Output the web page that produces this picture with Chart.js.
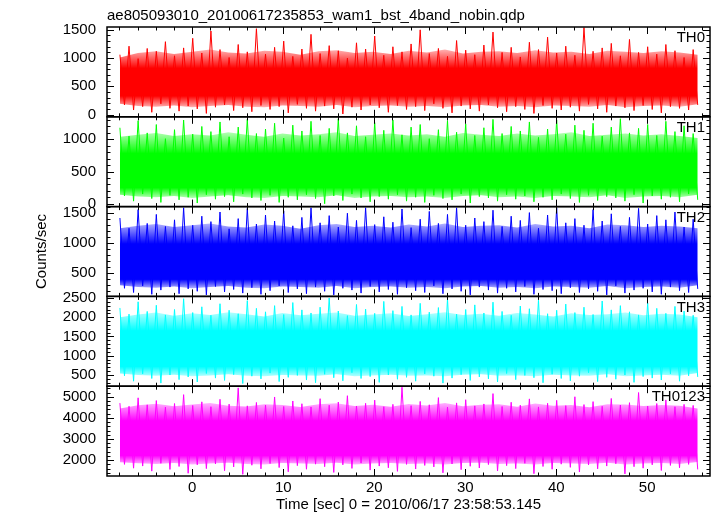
<!DOCTYPE html>
<html>
<head>
<meta charset="utf-8">
<script src="https://cdn.jsdelivr.net/npm/chart.js@4.4.1/dist/chart.umd.min.js"></script>
<style>
  html, body { margin: 0; padding: 0; background: #fff; }
  #wrap { width: 717px; height: 516px; }
</style>
</head>
<body>
<div id="wrap"><canvas id="lc" width="717" height="516"></canvas></div>
<script>
const plotTitle = 'ae805093010_20100617235853_wam1_bst_4band_nobin.qdp';
const xTitle = 'Time [sec] 0 = 2010/06/17 23:58:53.145';
const yTitle = 'Counts/sec';
const fontFamily = "'Liberation Sans', Arial, sans-serif";

const bandNames = ['TH0', 'TH1', 'TH2', 'TH3', 'TH0123'];
const bandRGB = ['255,0,0', '0,255,0', '0,0,255', '0,255,255', '255,0,255'];

// time range of the light curve (sec)
const timeStart = -7.95;
const timeEnd = 55.55;
const timeTicks = [0, 10, 20, 30, 40, 50];

// y ranges and tick labels for each panel
const yMin = [-40, -45, 115, 210, 1250];
const yMax = [1550, 1350, 1610, 2540, 5500];
const yTicks = [
  [0, 500, 1000, 1500],
  [0, 500, 1000],
  [500, 1000, 1500],
  [500, 1000, 1500, 2000, 2500],
  [2000, 3000, 4000, 5000]
];
const yMinor = [100, 100, 100, 100, 200];

// dense core of the noise (counts/sec)
const coreTop = [820, 780, 990, 1650, 3860];
const coreBottom = [330, 250, 400, 720, 2220];

// TH0
const th0High = [1060, 1210, 990, 1170, 1120, 1290, 1040, 1180,
  1350, 1090, 1480, 1150, 1010, 1240, 1110, 1520,
  1070, 1190, 1300, 1030, 1160, 1420, 1080, 1220,
  1130, 1000, 1270, 1160, 1390, 1050, 1200, 1110,
  1250, 1500, 1080, 1170, 1030, 1310, 1140, 1060,
  1230, 1460, 1100, 1190, 1020, 1280, 1150, 1370,
  1090, 1210, 1050, 1540, 1120, 1180, 1260, 1040,
  1330, 1100, 1200, 1070, 1240, 1130, 1010, 1150];
const th0Low = [170, 80, 140, 40, 190, 110, 60, 150,
  100, 20, 130, 170, 70, 120, 50, 160,
  90, 140, 30, 180, 110, 60, 150, 100,
  10, 130, 80, 170, 120, 40, 160, 90,
  140, 70, 190, 110, 30, 150, 100, 60,
  170, 120, 50, 140, 90, 20, 160, 110,
  80, 130, 60, 180, 100, 40, 150, 120,
  70, 160, 90, 30, 140, 110, 80, 170];
const th0BandTop = [1010, 1090, 1120, 1070, 1110, 1150, 1100, 1080,
  1130, 1110, 1060, 1120, 1140, 1090, 1110, 1070,
  1130, 1100, 1150, 1080, 1110, 1120, 1090, 1140,
  1100, 1110, 1070, 1130, 1110, 1090, 1120, 1100, 1060];
const th0BandBottom = [190, 150, 140, 160, 130, 150, 170, 140,
  130, 160, 150, 140, 170, 130, 150, 160,
  140, 150, 130, 160, 170, 140, 150, 130,
  160, 150, 140, 170, 130, 150, 160, 140, 180];

// TH1
const th1High = [1180, 1050, 1290, 1100, 1230, 1010, 1150, 1300,
  1080, 1200, 1120, 1270, 1040, 1190, 1310, 1090,
  1160, 1250, 1020, 1220, 1130, 1280, 1060, 1170,
  1320, 1100, 1210, 1040, 1260, 1140, 1300, 1070,
  1190, 1230, 1010, 1150, 1290, 1110, 1240, 1060,
  1180, 1310, 1090, 1200, 1130, 1270, 1030, 1160,
  1300, 1080, 1220, 1140, 1250, 1050, 1190, 1320,
  1100, 1170, 1230, 1060, 1280, 1120, 1210, 1090];
const th1Low = [120, 40, 150, 80, 20, 130, 60, 100,
  10, 140, 70, 110, 30, 150, 90, 50,
  130, 20, 100, 60, 140, 80, 0, 120,
  50, 150, 90, 30, 110, 70, 140, 40,
  100, 20, 130, 80, 60, 150, 10, 110,
  90, 40, 140, 70, 120, 30, 100, 60,
  150, 80, 20, 130, 50, 110, 90, 40,
  140, 10, 120, 70, 100, 30, 150, 60];
const th1BandTop = [1040, 1070, 1100, 1050, 1080, 1060, 1110, 1070,
  1040, 1090, 1060, 1080, 1110, 1050, 1070, 1090,
  1060, 1080, 1040, 1100, 1070, 1050, 1090, 1060,
  1080, 1110, 1050, 1070, 1090, 1060, 1080, 1050, 1020];
const th1BandBottom = [140, 110, 100, 120, 90, 110, 130, 100,
  90, 120, 110, 100, 130, 90, 110, 120,
  100, 110, 90, 120, 130, 100, 110, 90,
  120, 110, 100, 130, 90, 110, 120, 100, 140];

// TH2
const th2High = [1420, 1250, 1560, 1330, 1480, 1280, 1390, 1590,
  1300, 1450, 1360, 1520, 1240, 1410, 1580, 1320,
  1470, 1370, 1540, 1290, 1430, 1590, 1340, 1460,
  1270, 1500, 1380, 1590, 1310, 1440, 1350, 1570,
  1260, 1400, 1530, 1330, 1480, 1590, 1300, 1420,
  1360, 1550, 1280, 1450, 1380, 1510, 1250, 1470,
  1590, 1340, 1410, 1300, 1560, 1370, 1490, 1280,
  1430, 1580, 1320, 1460, 1390, 1520, 1270, 1400];
const th2Low = [250, 180, 290, 150, 220, 270, 160, 240,
  200, 140, 280, 190, 230, 170, 260, 150,
  210, 290, 180, 240, 160, 270, 200, 140,
  250, 220, 170, 280, 190, 230, 150, 260,
  210, 180, 290, 160, 240, 200, 140, 270,
  220, 170, 250, 190, 280, 150, 230, 210,
  160, 260, 180, 240, 200, 140, 290, 170,
  220, 250, 190, 150, 270, 210, 180, 240];
const th2BandTop = [1250, 1290, 1320, 1270, 1300, 1330, 1280, 1260,
  1310, 1290, 1240, 1300, 1320, 1270, 1290, 1260,
  1310, 1280, 1330, 1270, 1290, 1300, 1260, 1320,
  1280, 1290, 1250, 1310, 1300, 1270, 1290, 1280, 1250];
const th2BandBottom = [300, 270, 260, 280, 250, 270, 290, 260,
  250, 280, 270, 260, 290, 250, 270, 280,
  260, 270, 250, 280, 290, 260, 270, 250,
  280, 270, 260, 290, 250, 270, 280, 260, 300];

// TH3
const th3High = [2240, 2080, 2400, 2150, 2310, 2060, 2200, 2480,
  2120, 2270, 2050, 2350, 2180, 2090, 2430, 2230,
  2140, 2300, 2070, 2380, 2190, 2110, 2260, 2500,
  2160, 2040, 2330, 2210, 2100, 2410, 2170, 2280,
  2060, 2360, 2130, 2250, 2470, 2080, 2200, 2320,
  2110, 2390, 2150, 2050, 2290, 2220, 2440, 2090,
  2180, 2340, 2120, 2260, 2070, 2420, 2190, 2300,
  2140, 2060, 2370, 2230, 2100, 2280, 2160, 2050];
const th3Low = [480, 340, 530, 410, 290, 500, 380, 450,
  320, 540, 420, 360, 510, 280, 470, 400,
  550, 330, 440, 490, 370, 300, 520, 430,
  350, 560, 410, 460, 310, 500, 390, 440,
  340, 530, 470, 290, 420, 510, 360, 450,
  400, 320, 540, 380, 490, 430, 300, 520,
  410, 350, 470, 560, 330, 440, 390, 500,
  310, 460, 420, 370, 530, 340, 480, 450];
const th3BandTop = [2000, 2070, 2120, 2040, 2100, 2060, 2130, 2080,
  2020, 2110, 2050, 2090, 2120, 2040, 2070, 2100,
  2030, 2080, 2130, 2060, 2090, 2040, 2110, 2070,
  2020, 2100, 2060, 2080, 2120, 2050, 2090, 2070, 2000];
const th3BandBottom = [540, 500, 480, 510, 470, 490, 520, 480,
  470, 500, 490, 480, 520, 470, 490, 510,
  480, 490, 470, 510, 520, 480, 490, 470,
  510, 490, 480, 520, 470, 490, 510, 480, 550];

// TH0123
const th0123High = [4700, 4550, 4950, 4620, 4820, 4510, 4680, 5100,
  4590, 4760, 4530, 4880, 4650, 5420, 4570, 4730,
  4610, 4990, 4540, 4800, 4670, 4520, 4910, 4600,
  4750, 5050, 4560, 4690, 4840, 4530, 4640, 5450,
  4580, 4780, 4620, 4960, 4510, 4710, 4860, 4570,
  4660, 5150, 4540, 4740, 4600, 4900, 4520, 4690,
  4830, 4580, 5000, 4630, 4770, 4550, 4920, 4610,
  4720, 5200, 4560, 4680, 4850, 4530, 4640, 4590];
const th0123Low = [1800, 1620, 1720, 1480, 1850, 1560, 1700, 1380,
  1780, 1600, 1820, 1500, 1680, 1330, 1760, 1590,
  1840, 1650, 1450, 1740, 1570, 1810, 1690, 1420,
  1780, 1610, 1860, 1530, 1720, 1640, 1470, 1800,
  1580, 1750, 1680, 1400, 1820, 1550, 1710, 1630,
  1790, 1490, 1740, 1600, 1850, 1360, 1700, 1570,
  1810, 1660, 1440, 1770, 1590, 1720, 1830, 1350,
  1690, 1620, 1780, 1510, 1750, 1640, 1800, 1560];
const th0123BandTop = [4450, 4600, 4670, 4550, 4630, 4700, 4580, 4540,
  4650, 4610, 4520, 4640, 4690, 4560, 4620, 4530,
  4660, 4590, 4710, 4550, 4620, 4640, 4530, 4680,
  4570, 4610, 4500, 4650, 4630, 4560, 4610, 4580, 4450];
const th0123BandBottom = [1900, 1850, 1820, 1860, 1800, 1840, 1880, 1820,
  1800, 1860, 1840, 1820, 1880, 1800, 1840, 1860,
  1820, 1840, 1800, 1860, 1880, 1820, 1840, 1800,
  1860, 1840, 1820, 1880, 1800, 1840, 1860, 1820, 1910];

const highs = [th0High, th1High, th2High, th3High, th0123High];
const lows = [th0Low, th1Low, th2Low, th3Low, th0123Low];
const bandTops = [th0BandTop, th1BandTop, th2BandTop, th3BandTop, th0123BandTop];
const bandBottoms = [th0BandBottom, th1BandBottom, th2BandBottom, th3BandBottom, th0123BandBottom];

// spread values evenly over the observation time
function toPoints(values) {
  const step = (timeEnd - timeStart) / (values.length - 1);
  return values.map((v, i) => ({ x: timeStart + i * step, y: v }));
}

// fill fades out toward the outer edge of the noise band
function bandFill(i) {
  return (ctx) => {
    const chart = ctx.chart;
    const s = chart.scales['y' + i];
    const solid = 'rgba(' + bandRGB[i] + ',1)';
    if (!chart.chartArea || !s || !(s.bottom > s.top)) return solid;
    const h = s.bottom - s.top;
    const pos = v => Math.min(1, Math.max(0, (s.getPixelForValue(v) - s.top) / h));
    const g = chart.ctx.createLinearGradient(0, s.top, 0, s.bottom);
    const faint = 'rgba(' + bandRGB[i] + ',0.3)';
    g.addColorStop(pos(Math.max(...bandTops[i])), faint);
    g.addColorStop(pos(coreTop[i]), solid);
    g.addColorStop(pos(coreBottom[i]), solid);
    g.addColorStop(pos(Math.min(...bandBottoms[i])), faint);
    return g;
  };
}

const datasets = [];
const scales = {};

bandNames.forEach((name, i) => {
  const spikes = highs[i].flatMap((h, k) => [h, lows[i][k]]);
  datasets.push({
    label: name,
    data: toPoints(spikes),
    yAxisID: 'y' + i,
    borderColor: 'rgb(' + bandRGB[i] + ')',
    borderWidth: 1,
    pointRadius: 0,
    tension: 0,
    fill: false,
    order: 0
  });
  datasets.push({
    label: name + ' band top',
    data: toPoints(bandTops[i]),
    yAxisID: 'y' + i,
    borderWidth: 0,
    borderColor: 'rgba(0,0,0,0)',
    backgroundColor: bandFill(i),
    pointRadius: 0,
    fill: '+1',
    order: 1
  });
  datasets.push({
    label: name + ' band bottom',
    data: toPoints(bandBottoms[i]),
    yAxisID: 'y' + i,
    borderWidth: 0,
    borderColor: 'rgba(0,0,0,0)',
    pointRadius: 0,
    fill: false,
    order: 1
  });
});

// stacked scales are laid out bottom-up, so add the last panel first
for (let i = bandNames.length - 1; i >= 0; i--) {
  scales['y' + i] = {
    type: 'linear',
    position: 'left',
    stack: 'panels',
    stackWeight: 1,
    min: yMin[i],
    max: yMax[i],
    afterBuildTicks: s => { s.ticks = yTicks[i].map(v => ({ value: v })); },
    afterFit: s => { s.width = 107; },
    grid: { display: false, drawTicks: false },
    border: { display: false },
    ticks: {
      padding: 11,
      autoSkip: false,
      color: '#000',
      font: { family: fontFamily, size: 15 },
      callback: v => String(v)
    },
    title: {
      display: i === 2,
      text: yTitle,
      color: '#000',
      padding: { top: 33, bottom: 0 },
      font: { family: fontFamily, size: 15 }
    }
  };
}

scales.x = {
  type: 'linear',
  position: 'bottom',
  min: -9.37,
  max: 56.9,
  afterBuildTicks: s => { s.ticks = timeTicks.map(v => ({ value: v })); },
  afterFit: s => { s.height = 40; },
  grid: { display: false, drawTicks: false },
  border: { display: false },
  ticks: {
    padding: 3,
    maxRotation: 0,
    autoSkip: false,
    color: '#000',
    font: { family: fontFamily, size: 15 },
    callback: v => String(v)
  },
  title: {
    display: true,
    text: xTitle,
    color: '#000',
    padding: { top: 0, bottom: 2 },
    font: { family: fontFamily, size: 15 }
  }
};

// boxes, inward tick marks, panel names and the file name on top
const qdpFrame = {
  id: 'qdpFrame',
  afterDraw(chart) {
    const { ctx, chartArea: a } = chart;
    const xs = chart.scales.x;
    ctx.save();
    ctx.strokeStyle = '#000';
    ctx.lineWidth = 1;
    bandNames.forEach((name, i) => {
      const s = chart.scales['y' + i];
      ctx.beginPath();
      for (let v = Math.ceil(s.min / yMinor[i]) * yMinor[i]; v <= s.max; v += yMinor[i]) {
        const len = yTicks[i].includes(v) ? 7 : 3.5;
        const y = Math.round(s.getPixelForValue(v)) + 0.5;
        ctx.moveTo(a.left, y); ctx.lineTo(a.left + len, y);
        ctx.moveTo(a.right, y); ctx.lineTo(a.right - len, y);
      }
      for (let t = Math.ceil(xs.min / 2) * 2; t <= xs.max; t += 2) {
        const len = t % 10 === 0 ? 7 : 3.5;
        const x = Math.round(xs.getPixelForValue(t)) + 0.5;
        ctx.moveTo(x, s.top); ctx.lineTo(x, s.top + len);
        ctx.moveTo(x, s.bottom); ctx.lineTo(x, s.bottom - len);
      }
      ctx.stroke();
    });

    ctx.lineWidth = 1.5;
    bandNames.forEach((name, i) => {
      const s = chart.scales['y' + i];
      ctx.strokeRect(a.left, s.top, a.right - a.left, s.bottom - s.top);
    });

    ctx.fillStyle = '#000';
    ctx.font = '15px ' + fontFamily;
    ctx.textAlign = 'right';
    ctx.textBaseline = 'middle';
    bandNames.forEach((name, i) => {
      ctx.fillText(name, a.right - 5, chart.scales['y' + i].top + 11);
    });
    ctx.textAlign = 'left';
    ctx.fillText(plotTitle, a.left, 15.5);
    ctx.restore();
  }
};

new Chart(document.getElementById('lc'), {
  type: 'line',
  data: { datasets: datasets },
  options: {
    responsive: false,
    animation: false,
    devicePixelRatio: 1,
    layout: { padding: { top: 27, right: 7, bottom: 0, left: 0 } },
    plugins: {
      legend: { display: false },
      tooltip: { enabled: false },
      filler: { propagate: false }
    },
    scales: scales
  },
  plugins: [qdpFrame]
});
</script>
</body>
</html>
